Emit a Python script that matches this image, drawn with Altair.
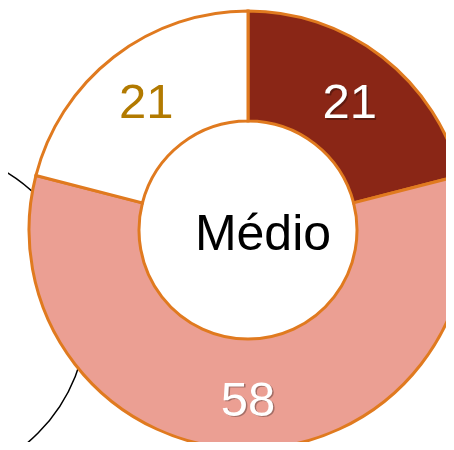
import altair as alt
import pandas as pd

categories = ["Alto", "Médio", "Baixo"]
values = [21, 58, 21]
labels = ["21", "58", "21"]
fill_colors = ["#8A2616", "#EB9F93", "#FFFFFF"]
label_colors = ["#FFFFFF", "#FFFFFF", "#B27A00"]
shadowed = [1, 1, 0]
slice_order = [1, 2, 3]
center_text = ["Médio"]

df = pd.DataFrame({
    "cat": categories,
    "value": values,
    "label": labels,
    "fill": fill_colors,
    "lc": label_colors,
    "sh": shadowed,
    "order": slice_order,
})

CX, CY = 240, 222
FONT = "Liberation Sans"
LABEL_R = 166
LABEL_DY = 4.5

base = alt.Chart(df).encode(
    theta=alt.Theta("value:Q", stack=True),
    order=alt.Order("order:Q"),
    x=alt.value(CX),
    y=alt.value(CY),
)

arcs = base.mark_arc(
    innerRadius=109, outerRadius=219, stroke="#E07A1F", strokeWidth=3
).encode(color=alt.Color("fill:N", scale=None))

shadow = base.mark_text(
    radius=LABEL_R, fontSize=49, font=FONT, dx=1.5, dy=LABEL_DY + 1.5,
    baseline="middle", color="#000000", opacity=0.3,
).encode(text="label:N").transform_filter("datum.sh == 1")

texts = base.mark_text(
    radius=LABEL_R, fontSize=49, font=FONT, dy=LABEL_DY, baseline="middle"
).encode(text="label:N", color=alt.Color("lc:N", scale=None))

ring = alt.Chart(pd.DataFrame({"k": [0]})).mark_arc(
    theta=0, theta2=6.2832, outerRadius=167, fillOpacity=0,
    stroke="#000000", strokeWidth=1.5,
).encode(x=alt.value(-88), y=alt.value(307))

center = alt.Chart(pd.DataFrame({"t": center_text})).mark_text(
    fontSize=50, font=FONT, baseline="alphabetic", color="#000000"
).encode(text="t:N", x=alt.value(255), y=alt.value(242))

chart = alt.layer(ring, arcs, shadow, texts, center).properties(
    width=438, height=434, autosize="none", padding=0
).configure_view(strokeWidth=0)

chart.save("out.html", embed_options={"renderer": "svg", "actions": False})
